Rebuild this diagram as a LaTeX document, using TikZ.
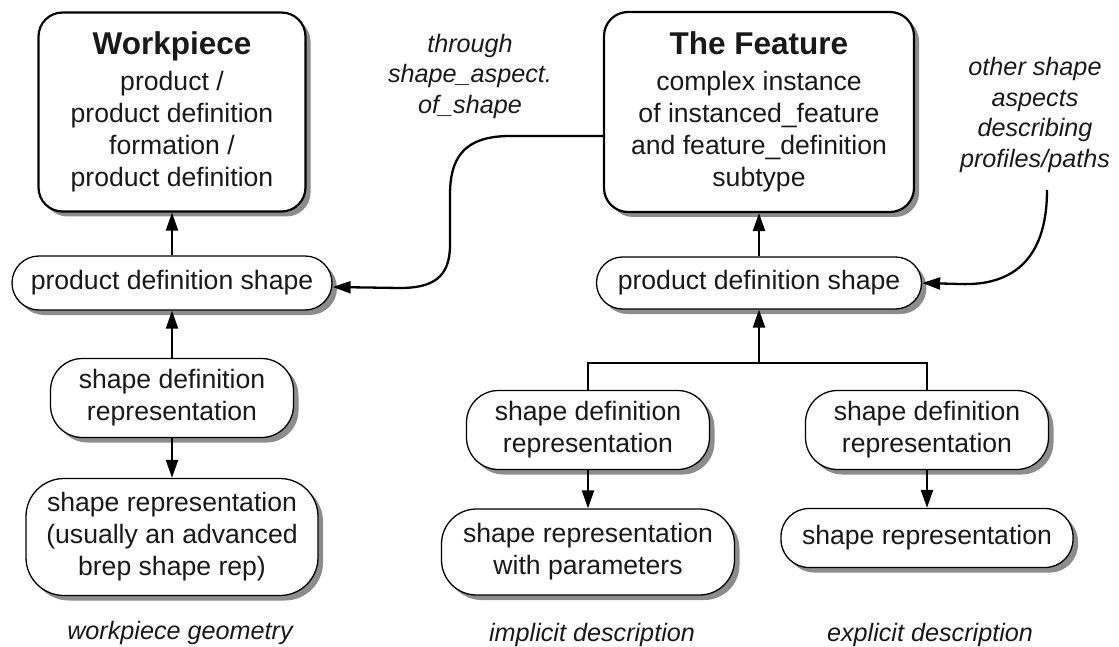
\documentclass[tikz,border=0pt]{standalone}
\usepackage{fontspec}
\setmainfont{Liberation Sans}
\usetikzlibrary{arrows.meta,shadows}
\begin{document}
\begin{tikzpicture}[x=1pt,y=-1pt,
  every node/.style={font=\fontsize{26.6}{32}\selectfont, align=center, inner sep=0pt, text=black!90},
  shad/.style={drop shadow={shadow xshift=5pt, shadow yshift=-5pt, fill=black!45, opacity=1}},
  bigbox/.style={draw, line width=2.2pt, fill=white, rounded corners=24pt, shad},
  smbox/.style={draw, line width=1.3pt, fill=white, shad},
  arr/.style={line width=2.3pt, -{Triangle[length=18pt,width=12pt]}},
  conn/.style={line width=2.3pt},
  lbl/.style={font=\fontsize{25.2}{30.5}\selectfont\itshape}]
\useasboundingbox (0,0) rectangle (1119,647);

% left column
\node[bigbox, minimum width=267pt, minimum height=199pt] (wp) at (172,112)
  {{\fontsize{31.5}{32}\selectfont\bfseries Workpiece}\\[4pt]product /\\product definition\\formation /\\product definition};
\node[smbox, rounded corners=27pt, minimum width=320pt, minimum height=54pt] (pdsL) at (172,283) {product definition shape};
\node[smbox, rounded corners=32pt, minimum width=243pt, minimum height=79pt] (sdrL) at (172,398) {shape definition\\representation};
\node[smbox, rounded corners=38pt, minimum width=292pt, minimum height=117pt] (srL) at (172,537) {shape representation\\(usually an advanced\\brep shape rep)};
\node[lbl] (lg) at (180,633) {workpiece geometry};

% right part
\node[bigbox, minimum width=310pt, minimum height=200pt] (feat) at (759,112)
  {{\fontsize{31.5}{32}\selectfont\bfseries The Feature}\\[4pt]complex instance\\of instanced\_feature\\and feature\_definition\\subtype};
\node[smbox, rounded corners=26pt, minimum width=325pt, minimum height=52pt] (pdsR) at (759,283) {product definition shape};
\node[smbox, rounded corners=32pt, minimum width=243pt, minimum height=79pt] (sdrM) at (588,430) {shape definition\\representation};
\node[smbox, rounded corners=35pt, minimum width=293pt, minimum height=86pt] (srM) at (588,552) {shape representation\\with parameters};
\node[smbox, rounded corners=32pt, minimum width=243pt, minimum height=79pt] (sdrR) at (927,430) {shape definition\\representation};
\node[smbox, rounded corners=28pt, minimum width=292pt, minimum height=59pt] (srR) at (927,538) {shape representation};
\node[lbl] (li) at (592,635) {implicit description};
\node[lbl] (le) at (930,635) {explicit description};

% side labels
\node[lbl] (through) at (470,76) {through\\shape\_aspect.\\of\_shape};
\node[lbl] (other) at (1035,115) {other shape\\aspects\\describing\\profiles/paths};

% connectors
\draw[arr] (pdsL.north) -- (wp.south);
\draw[arr] (sdrL.north) -- (pdsL.south);
\draw[arr] (sdrL.south) -- (srL.north);
\draw[arr] (pdsR.north) -- (feat.south);
\coordinate (j) at (759,363);
\draw[conn] (sdrM.north) |- (j) -| (sdrR.north);
\draw[arr] (j) -- (pdsR.south);
\draw[arr] (sdrM.south) -- (srM.north);
\draw[arr] (sdrR.south) -- (srR.north);

\coordinate (c1) at (604,136);
\draw[arr] (c1) -- (510,136) .. controls (462,136) and (450,160) .. (450,195) -- (450,245)
  .. controls (450,278) and (432,288) .. (400,288) -- ([yshift=-4pt]pdsL.east);
\coordinate (c2) at (1047,190);
\draw[arr] (c2) .. controls (1047,262) and (1010,286) .. (960,284) -- (pdsR.east);
\end{tikzpicture}
\end{document}
